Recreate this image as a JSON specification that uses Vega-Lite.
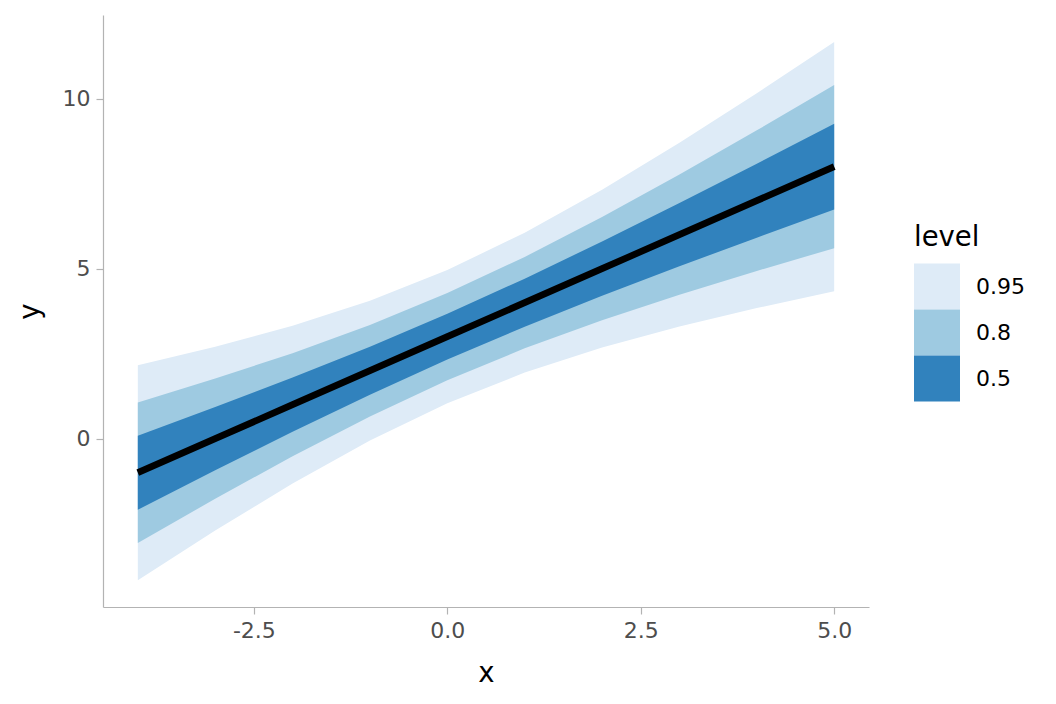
{
  "$schema": "https://vega.github.io/schema/vega-lite/v6.json",
  "width": 766,
  "height": 592,
  "autosize": {"type": "none"},
  "padding": {"left": 103, "top": 15, "right": 187, "bottom": 97},
  "background": "white",
  "config": {
    "view": {"stroke": null},
    "font": "DejaVu Sans",
    "axis": {
      "grid": false,
      "domainColor": "#B3B3B3",
      "domainWidth": 1.2,
      "tickColor": "#B3B3B3",
      "tickWidth": 1.2,
      "tickSize": 7,
      "labelColor": "#4D4D4D",
      "labelFontSize": 22,
      "labelPadding": 6,
      "titleFontSize": 27.5,
      "titleFontWeight": "normal",
      "titleColor": "black"
    },
    "legend": {
      "titleFontSize": 27.5,
      "titleFontWeight": "normal",
      "titleColor": "black",
      "titlePadding": 12,
      "labelFontSize": 22,
      "labelColor": "black",
      "labelOffset": 16,
      "symbolType": "square",
      "symbolSize": 2116,
      "symbolStrokeWidth": 0,
      "symbolOpacity": 1,
      "rowPadding": 0,
      "padding": 0
    }
  },
  "datasets": {
    "bands": [
      {"x": -4, "level": "0.95", "lower": -4.160, "upper": 2.160},
      {"x": -3, "level": "0.95", "lower": -2.702, "upper": 2.702},
      {"x": -2, "level": "0.95", "lower": -1.319, "upper": 3.319},
      {"x": -1, "level": "0.95", "lower": -0.056, "upper": 4.056},
      {"x": 0, "level": "0.95", "lower": 1.040, "upper": 4.960},
      {"x": 1, "level": "0.95", "lower": 1.944, "upper": 6.056},
      {"x": 2, "level": "0.95", "lower": 2.681, "upper": 7.319},
      {"x": 3, "level": "0.95", "lower": 3.298, "upper": 8.702},
      {"x": 4, "level": "0.95", "lower": 3.840, "upper": 10.160},
      {"x": 5, "level": "0.95", "lower": 4.333, "upper": 11.667},
      {"x": -4, "level": "0.8", "lower": -3.067, "upper": 1.067},
      {"x": -3, "level": "0.8", "lower": -1.767, "upper": 1.767},
      {"x": -2, "level": "0.8", "lower": -0.516, "upper": 2.516},
      {"x": -1, "level": "0.8", "lower": 0.656, "upper": 3.344},
      {"x": 0, "level": "0.8", "lower": 1.718, "upper": 4.282},
      {"x": 1, "level": "0.8", "lower": 2.656, "upper": 5.344},
      {"x": 2, "level": "0.8", "lower": 3.484, "upper": 6.516},
      {"x": 3, "level": "0.8", "lower": 4.233, "upper": 7.767},
      {"x": 4, "level": "0.8", "lower": 4.933, "upper": 9.067},
      {"x": 5, "level": "0.8", "lower": 5.602, "upper": 10.398},
      {"x": -4, "level": "0.5", "lower": -2.088, "upper": 0.088},
      {"x": -3, "level": "0.5", "lower": -0.930, "upper": 0.930},
      {"x": -2, "level": "0.5", "lower": 0.202, "upper": 1.798},
      {"x": -1, "level": "0.5", "lower": 1.293, "upper": 2.707},
      {"x": 0, "level": "0.5", "lower": 2.326, "upper": 3.674},
      {"x": 1, "level": "0.5", "lower": 3.293, "upper": 4.707},
      {"x": 2, "level": "0.5", "lower": 4.202, "upper": 5.798},
      {"x": 3, "level": "0.5", "lower": 5.070, "upper": 6.930},
      {"x": 4, "level": "0.5", "lower": 5.912, "upper": 8.088},
      {"x": 5, "level": "0.5", "lower": 6.738, "upper": 9.262}
    ],
    "line": [
      {"x": -4, "y": -1}, {"x": -3, "y": 0}, {"x": -2, "y": 1}, {"x": -1, "y": 2},
      {"x": 0, "y": 3}, {"x": 1, "y": 4}, {"x": 2, "y": 5}, {"x": 3, "y": 6},
      {"x": 4, "y": 7}, {"x": 5, "y": 8}
    ]
  },
  "layer": [
    {
      "data": {"name": "bands"},
      "transform": [{"filter": "datum.level === '0.95'"}],
      "mark": {"type": "area", "opacity": 1},
      "encoding": {
        "x": {
          "field": "x", "type": "quantitative",
          "scale": {"domain": [-4.45, 5.45], "nice": false, "zero": false},
          "axis": {"values": [-2.5, 0, 2.5, 5], "labelExpr": "replace(format(datum.value, '.1f'), '\u2212', '-')", "title": "x", "titlePadding": 18}
        },
        "y": {
          "field": "lower", "type": "quantitative",
          "scale": {"domain": [-4.95, 12.46], "nice": false, "zero": false},
          "axis": {"values": [0, 5, 10], "format": "d", "title": "y", "titlePadding": 18}
        },
        "y2": {"field": "upper"},
        "color": {
          "field": "level", "type": "nominal",
          "scale": {"domain": ["0.95", "0.8", "0.5"], "range": ["#DEEBF7", "#9ECAE1", "#3182BD"]},
          "legend": {"title": "level", "orient": "none", "legendX": 811, "legendY": 209}
        }
      }
    },
    {
      "data": {"name": "bands"},
      "transform": [{"filter": "datum.level === '0.8'"}],
      "mark": {"type": "area", "opacity": 1},
      "encoding": {
        "x": {"field": "x", "type": "quantitative"},
        "y": {"field": "lower", "type": "quantitative"},
        "y2": {"field": "upper"},
        "color": {"field": "level", "type": "nominal"}
      }
    },
    {
      "data": {"name": "bands"},
      "transform": [{"filter": "datum.level === '0.5'"}],
      "mark": {"type": "area", "opacity": 1},
      "encoding": {
        "x": {"field": "x", "type": "quantitative"},
        "y": {"field": "lower", "type": "quantitative"},
        "y2": {"field": "upper"},
        "color": {"field": "level", "type": "nominal"}
      }
    },
    {
      "data": {"name": "line"},
      "mark": {"type": "line", "color": "black", "strokeWidth": 6.7, "strokeCap": "butt"},
      "encoding": {
        "x": {"field": "x", "type": "quantitative"},
        "y": {"field": "y", "type": "quantitative"}
      }
    }
  ]
}
